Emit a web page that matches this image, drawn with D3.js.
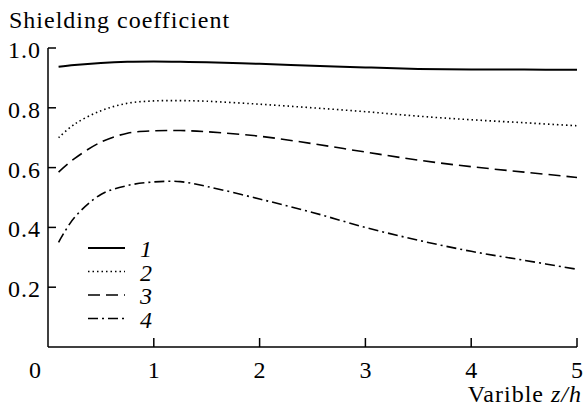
<!DOCTYPE html>
<html>
<head>
<meta charset="utf-8">
<script src="https://cdn.jsdelivr.net/npm/d3@7"></script>
<style>
  body { margin: 0; background: #fff; }
  svg { display: block; font-family: "Liberation Serif", "DejaVu Serif", serif; }
</style>
</head>
<body>
<svg id="chart" width="583" height="408"></svg>
<script>
// curve samples
const xs = [0.1, 0.25, 0.5, 0.75, 1.0, 1.25, 1.5, 2, 2.5, 3, 3.5, 4, 4.5, 5];
const curve1 = [0.937, 0.943, 0.95, 0.954, 0.955, 0.954, 0.952, 0.947, 0.941, 0.935, 0.93, 0.928, 0.928, 0.927];
const curve2 = [0.70, 0.745, 0.79, 0.815, 0.823, 0.824, 0.822, 0.812, 0.80, 0.787, 0.772, 0.76, 0.75, 0.74];
const curve3 = [0.585, 0.63, 0.685, 0.715, 0.723, 0.724, 0.72, 0.705, 0.68, 0.652, 0.625, 0.603, 0.585, 0.567];
const curve4 = [0.35, 0.433, 0.51, 0.54, 0.552, 0.553, 0.537, 0.495, 0.45, 0.40, 0.357, 0.32, 0.29, 0.26];
const seriesNames = ["1", "2", "3", "4"];
const yTicks = [0.2, 0.4, 0.6, 0.8, 1.0];
const xTicks = [1, 2, 3, 4, 5];

const dashes = ["none", "1.5,3", "12,6", "10,4,2,4"];
const series = [curve1, curve2, curve3, curve4];

const svg = d3.select("#chart");
const x = d3.scaleLinear().domain([0, 5]).range([48, 577]);
const y = d3.scaleLinear().domain([0, 1]).range([347, 48]);

// axes
svg.append("line")
  .attr("x1", x(0)).attr("x2", x(0))
  .attr("y1", y(0)).attr("y2", y(1))
  .attr("stroke", "#000").attr("stroke-width", 1.5);
svg.append("line")
  .attr("x1", x(0)).attr("x2", x(5))
  .attr("y1", y(0)).attr("y2", y(0))
  .attr("stroke", "#000").attr("stroke-width", 1.5);

svg.selectAll(".ytick").data(yTicks).join("line")
  .attr("x1", x(0)).attr("x2", x(0) + 8)
  .attr("y1", (d) => y(d)).attr("y2", (d) => y(d))
  .attr("stroke", "#000").attr("stroke-width", 1.5);
svg.selectAll(".ylab").data(yTicks).join("text")
  .attr("x", 41).attr("y", (d) => y(d))
  .attr("dy", "0.42em")
  .attr("text-anchor", "end")
  .attr("font-size", 24)
  .attr("letter-spacing", 1)
  .text((d) => d.toFixed(1));

svg.selectAll(".xtick").data(xTicks).join("line")
  .attr("x1", (d) => x(d)).attr("x2", (d) => x(d))
  .attr("y1", y(0)).attr("y2", y(0) - 9)
  .attr("stroke", "#000").attr("stroke-width", 1.5);
svg.selectAll(".xlab").data([0].concat(xTicks)).join("text")
  .attr("x", (d) => d === 0 ? x(0) - 13 : x(d))
  .attr("y", 378)
  .attr("text-anchor", "middle")
  .attr("font-size", 24)
  .text((d) => d);

svg.append("text")
  .attr("x", 9).attr("y", 28)
  .attr("font-size", 24)
  .attr("letter-spacing", 1)
  .text("Shielding coefficient");

const xl = svg.append("text")
  .attr("x", 582).attr("y", 402)
  .attr("text-anchor", "end")
  .attr("font-size", 24)
  .attr("letter-spacing", 1);
xl.append("tspan").text("Varible ");
xl.append("tspan").attr("font-style", "italic").text("z/h");

// curves
const line = d3.line()
  .x((d) => x(d[0]))
  .y((d) => y(d[1]))
  .curve(d3.curveCatmullRom);

series.forEach((vals, i) => {
  svg.append("path")
    .datum(xs.map((v, j) => [v, vals[j]]))
    .attr("d", line)
    .attr("fill", "none")
    .attr("stroke", "#000")
    .attr("stroke-width", i === 0 ? 2 : 1.6)
    .attr("stroke-dasharray", dashes[i]);
});

// legend
const legend = svg.append("g");
seriesNames.forEach((name, i) => {
  const ly = 248 + i * 23.5;
  legend.append("line")
    .attr("x1", 88).attr("x2", 125)
    .attr("y1", ly).attr("y2", ly)
    .attr("stroke", "#000")
    .attr("stroke-width", i === 0 ? 2 : 1.6)
    .attr("stroke-dasharray", dashes[i]);
  legend.append("text")
    .attr("x", 140).attr("y", ly)
    .attr("dy", "0.38em")
    .attr("font-size", 24)
    .attr("font-style", "italic")
    .text(name);
});
</script>
</body>
</html>
